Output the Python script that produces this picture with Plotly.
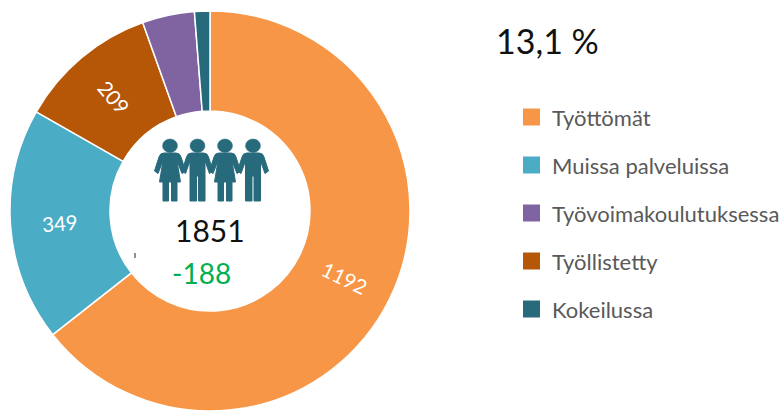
import math
import plotly.graph_objects as go

W, H = 783, 411
TOP = 11

categories = ["Työttömät", "Muissa palveluissa", "Työllistetty", "Työvoimakoulutuksessa", "Kokeilussa"]
values = [1192, 349, 209, 78, 23]
slice_labels = ["1192", "349", "209", "", ""]
slice_colors = ["#F79646", "#4BACC6", "#B65708", "#8064A2", "#276A7C"]

legend_order = ["Työttömät", "Muissa palveluissa", "Työvoimakoulutuksessa", "Työllistetty", "Kokeilussa"]
total_label = "1851"
change_label = "-188"
share_label = "13,1 %"
FONT = "Lato, 'Open Sans', sans-serif"


def px(x):
    return x / W


def py(y):
    return 1 - (y - TOP) / (H - TOP)


def path(cmds):
    out = []
    for c in cmds:
        cmd, pts = c[0], c[1:]
        out.append(cmd + " " + " ".join(f"{px(x):.5f},{py(y):.5f}" for x, y in pts))
    return " ".join(out) + " Z"


def man(cx):
    return path([
        ("M", (cx - 6, 153)), ("L", (cx + 6, 153)), ("Q", (cx + 10, 153), (cx + 11, 157)),
        ("L", (cx + 15.5, 171)), ("L", (cx + 12, 173.5)), ("L", (cx + 7.5, 161)),
        ("L", (cx + 7.5, 201)), ("L", (cx + 1, 201)), ("L", (cx + 1, 176)), ("L", (cx - 1, 176)),
        ("L", (cx - 1, 201)), ("L", (cx - 7.5, 201)), ("L", (cx - 7.5, 161)), ("L", (cx - 12, 173.5)),
        ("L", (cx - 15.5, 171)), ("L", (cx - 11, 157)), ("Q", (cx - 10, 153), (cx - 6, 153)),
    ])


def woman(cx):
    return path([
        ("M", (cx - 6, 153)), ("L", (cx + 6, 153)), ("Q", (cx + 10, 153), (cx + 11, 157)),
        ("L", (cx + 15.5, 171)), ("L", (cx + 12, 173.5)), ("L", (cx + 7, 161)),
        ("L", (cx + 10.5, 182)), ("L", (cx + 7, 182)), ("L", (cx + 7, 201)), ("L", (cx + 1.5, 201)),
        ("L", (cx + 1.5, 182)), ("L", (cx - 1.5, 182)), ("L", (cx - 1.5, 201)), ("L", (cx - 7, 201)),
        ("L", (cx - 7, 182)), ("L", (cx - 10.5, 182)), ("L", (cx - 7, 161)), ("L", (cx - 12, 173.5)),
        ("L", (cx - 15.5, 171)), ("L", (cx - 11, 157)), ("Q", (cx - 10, 153), (cx - 6, 153)),
    ])


fig = go.Figure(go.Pie(
    labels=categories,
    values=values,
    textinfo="none",
    sort=False,
    direction="clockwise",
    rotation=0,
    hole=0.5,
    domain=dict(x=[10 / W, 410 / W], y=[0, 1]),
    marker=dict(colors=slice_colors, line=dict(color="white", width=1.5)),
    showlegend=False,
))

shapes = []
annotations = []
ICON = "#276A7C"
for cx, kind in [(170, woman), (197.5, man), (225, woman), (253, man)]:
    shapes.append(dict(type="path", xref="paper", yref="paper", path=kind(cx),
                       fillcolor=ICON, line=dict(color=ICON, width=1)))
    shapes.append(dict(type="circle", xref="paper", yref="paper",
                       x0=px(cx - 7.5), x1=px(cx + 7.5), y0=py(152.5), y1=py(139),
                       fillcolor=ICON, line=dict(color=ICON, width=0.5)))

shapes.append(dict(type="line", xref="paper", yref="paper", x0=px(135), x1=px(135),
                   y0=py(253), y1=py(258), line=dict(color="#222222", width=1)))

# Slice labels follow the ring, placed from the slice values
total = sum(values)
running = 0
for value, label in zip(values, slice_labels):
    mid = (running + value / 2) / total * 360
    running += value
    if not label:
        continue
    rad = math.radians(mid)
    angle = mid - 90 if mid <= 180 else mid - 270
    annotations.append(dict(text=label, xref="paper", yref="paper",
                            x=px(210 + 150 * math.sin(rad)), y=py(212 - 150 * math.cos(rad)),
                            xanchor="center", yanchor="middle", showarrow=False, textangle=angle,
                            font=dict(family=FONT, size=20.5, color="white")))

for i, name in enumerate(legend_order):
    yc = 117 + 48 * i
    shapes.append(dict(type="rect", xref="paper", yref="paper",
                       x0=px(523), x1=px(540), y0=py(yc + 8.5), y1=py(yc - 8.5),
                       fillcolor=slice_colors[categories.index(name)], line=dict(width=0)))
    annotations.append(dict(text=name, xref="paper", yref="paper", x=px(550), y=py(yc),
                            xanchor="left", yanchor="middle", showarrow=False,
                            font=dict(family=FONT, size=22, color="#595959")))

annotations += [
    dict(text=total_label, xref="paper", yref="paper", x=px(210), y=py(230), xanchor="center",
         yanchor="middle", showarrow=False, font=dict(family=FONT, size=30, color="#111111")),
    dict(text=change_label, xref="paper", yref="paper", x=px(201), y=py(273), xanchor="center",
         yanchor="middle", showarrow=False, font=dict(family=FONT, size=28, color="#00B050")),
    dict(text=share_label, xref="paper", yref="paper", x=px(494), y=py(41), xanchor="left",
         yanchor="middle", showarrow=False, font=dict(family=FONT, size=34, color="#111111")),
]

fig.update_layout(
    width=W, height=H,
    margin=dict(l=0, r=0, t=TOP, b=0, autoexpand=False),
    paper_bgcolor="white",
    shapes=shapes,
    annotations=annotations,
)
fig.write_html("out.html", config=dict(displayModeBar=False),
               post_script="document.body.style.margin='0';")
